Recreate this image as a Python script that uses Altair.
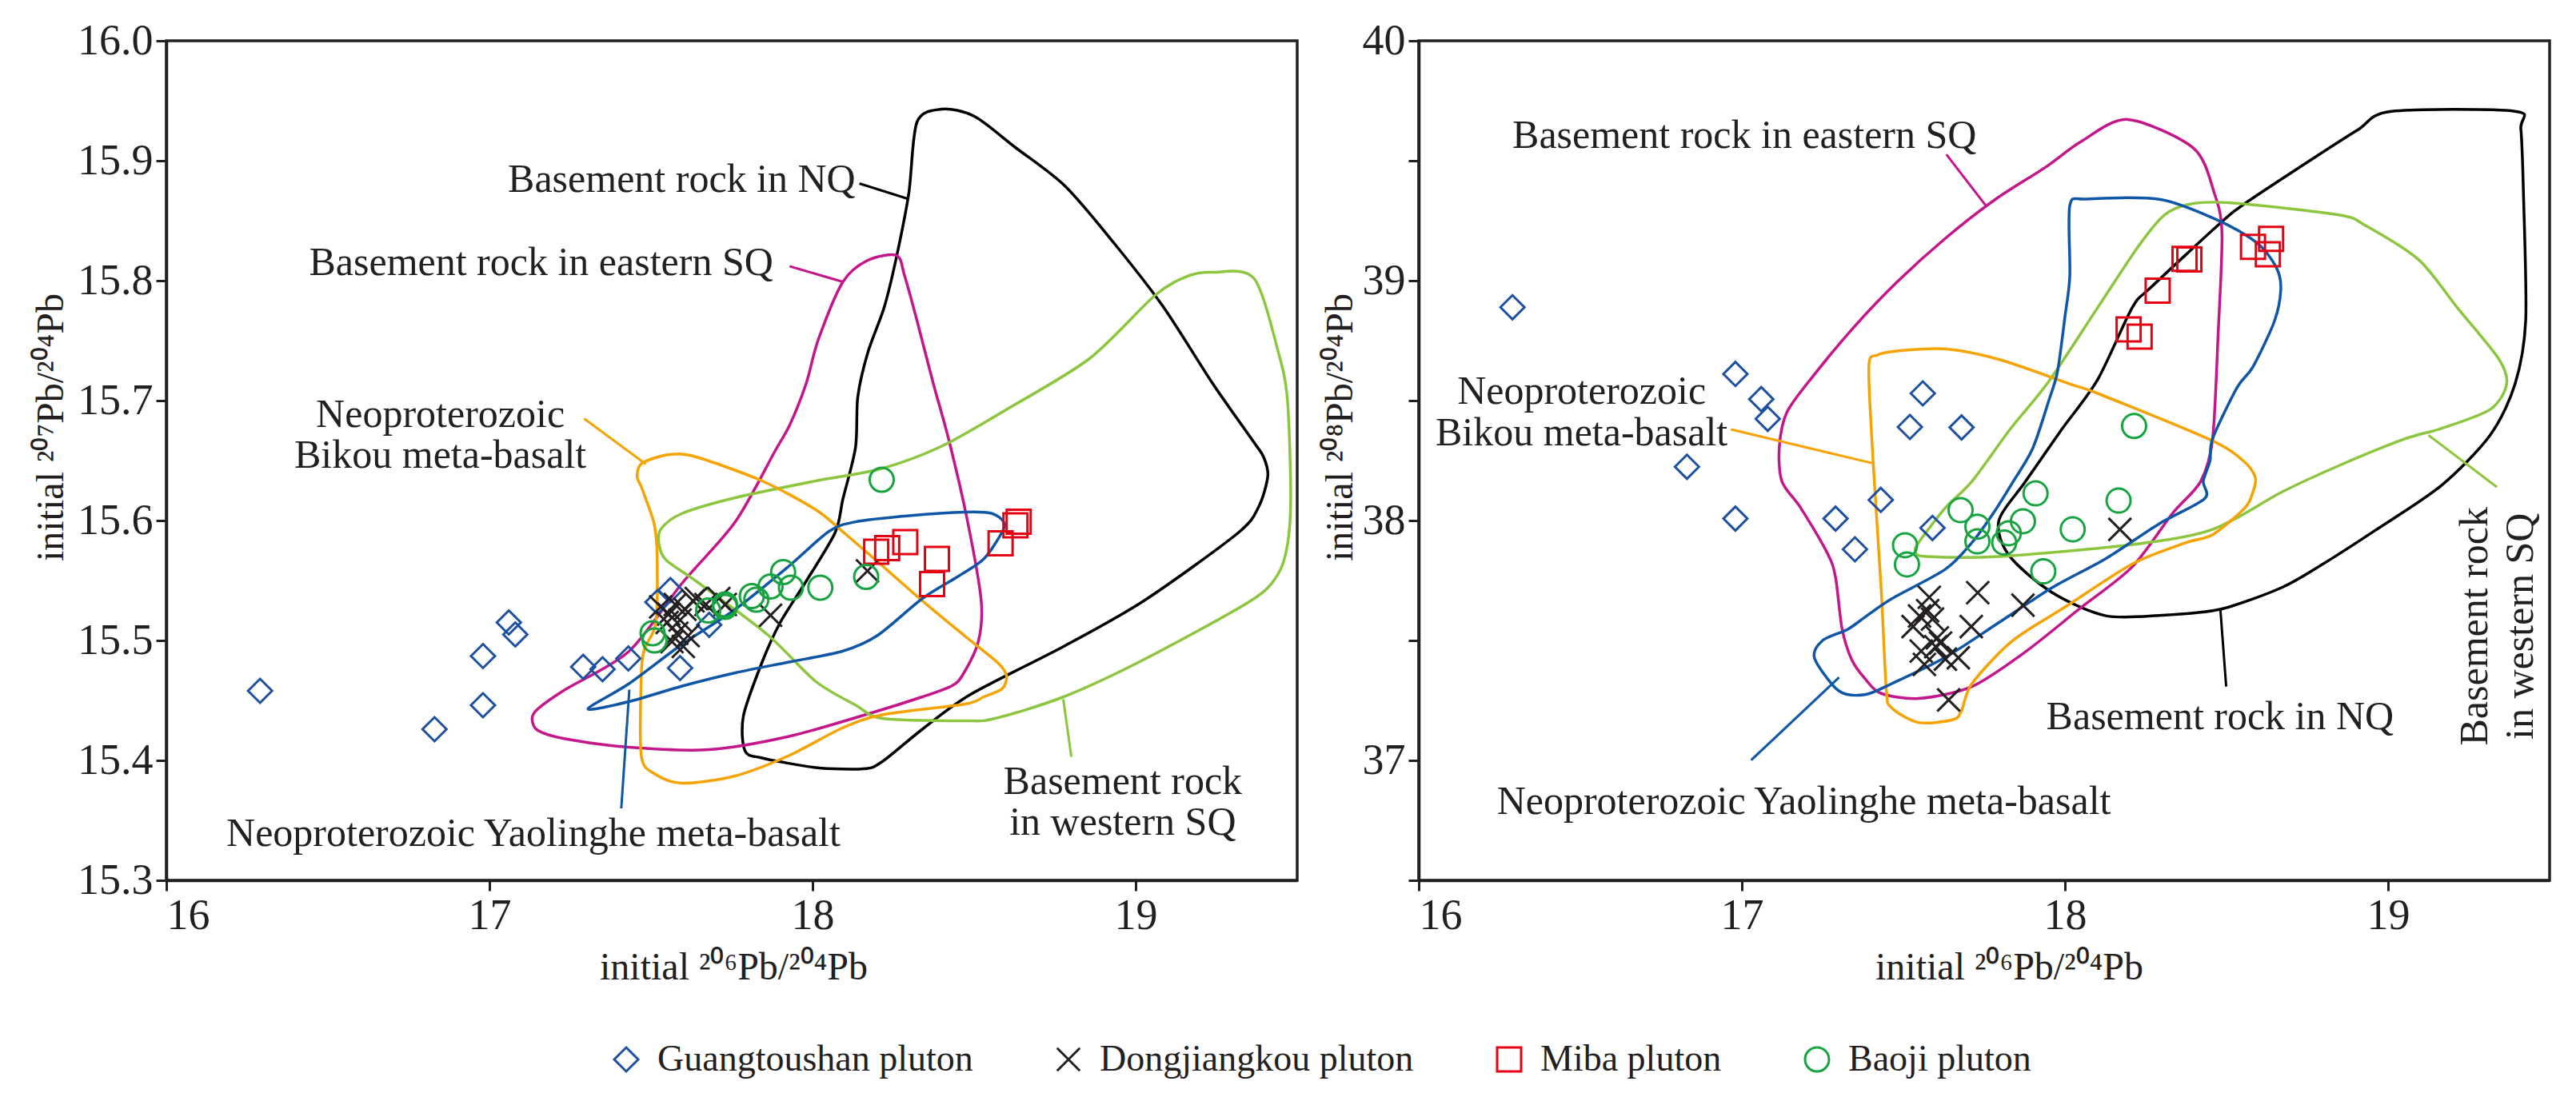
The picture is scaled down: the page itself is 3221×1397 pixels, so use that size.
import altair as alt
import pandas as pd

FONT = "Liberation Serif"
INK = "#231f20"

# ---------------- samples (initial 206Pb/204Pb, 207Pb/204Pb, 208Pb/204Pb) ----------------
GROUPS = ["Guangtoushan pluton", "Dongjiangkou pluton", "Miba pluton", "Baoji pluton"]
GROUP_COLORS = ["#1d50a2", "#231f20", "#e60012", "#17a440"]
GROUP_SHAPES = ["diamond", "M-0.95,-0.95L0.95,0.95M0.95,-0.95L-0.95,0.95", "square", "circle"]

GT_206 = [16.29, 16.83, 16.98, 16.98, 17.06, 17.08, 17.29, 17.35, 17.43, 17.52, 17.56, 17.59, 17.68]
GT_207 = [15.458, 15.426, 15.446, 15.487, 15.515, 15.505, 15.478, 15.476, 15.485, 15.532, 15.542, 15.477, 15.513]
GT_208 = [38.889, 38.224, 38.008, 38.611, 38.506, 38.424, 38.008, 37.880, 38.086, 38.390, 38.530, 37.969, 38.388]

DJ_206 = [17.53, 17.55, 17.555, 17.565, 17.575, 17.58, 17.59, 17.60, 17.605, 17.615, 17.63, 17.64, 17.67, 17.71, 17.73, 17.87, 18.17]
DJ_207 = [15.528, 15.515, 15.522, 15.499, 15.530, 15.506, 15.517, 15.495, 15.526, 15.504, 15.533, 15.535, 15.530, 15.535, 15.530, 15.521, 15.558]
DJ_208 = [37.558, 37.602, 37.456, 37.400, 37.624, 37.680, 37.589, 37.474, 37.511, 37.489, 37.422, 37.252, 37.428, 37.558, 37.699, 37.647, 37.963]

MB_206 = [18.197, 18.231, 18.287, 18.37, 18.385, 18.582, 18.628, 18.638]
MB_207 = [15.574, 15.577, 15.582, 15.547, 15.568, 15.581, 15.596, 15.599]
MB_208 = [38.797, 38.767, 38.958, 39.091, 39.088, 39.141, 39.110, 39.174]

BJ_206 = [17.505, 17.511, 17.677, 17.729, 17.729, 17.812, 17.826, 17.870, 17.909, 17.933, 18.024, 18.166, 18.214]
BJ_207 = [15.506, 15.500, 15.525, 15.528, 15.530, 15.537, 15.534, 15.545, 15.557, 15.544, 15.544, 15.553, 15.634]
BJ_208 = [37.897, 37.817, 38.043, 37.974, 37.913, 37.908, 37.947, 37.997, 38.113, 37.788, 37.963, 38.083, 38.394]

# ---------------- reference fields (outlines) ----------------
FIELD_COLORS = ["#000000", "#c4168a", "#8cc63f", "#f5a300", "#0f56a6"]  # NQ, eastern SQ, western SQ, Bikou, Yaolinghe

# 207Pb/204Pb vs 206Pb/204Pb
NQ_L_X = [18.400, 18.323, 18.298, 18.260, 18.222, 18.171, 18.140, 18.133, 18.094, 18.070, 17.977, 17.900, 17.844, 17.786, 17.791, 17.844, 18.010, 18.158, 18.216, 18.340, 18.489, 18.777, 19.025, 19.314, 19.380, 19.409, 19.396, 19.364, 19.239, 19.086, 18.934, 18.781, 18.628, 18.501]
NQ_L_Y = [15.943, 15.932, 15.873, 15.820, 15.778, 15.740, 15.703, 15.661, 15.618, 15.590, 15.548, 15.515, 15.482, 15.437, 15.408, 15.402, 15.394, 15.393, 15.399, 15.426, 15.455, 15.495, 15.533, 15.589, 15.611, 15.637, 15.653, 15.666, 15.714, 15.778, 15.831, 15.879, 15.911, 15.937]
ES_L_X = [18.260, 18.171, 18.094, 18.018, 17.980, 17.930, 17.886, 17.761, 17.597, 17.432, 17.234, 17.150, 17.132, 17.150, 17.234, 17.430, 17.679, 17.927, 18.175, 18.340, 18.430, 18.464, 18.513, 18.522, 18.480, 18.423, 18.374, 18.323, 18.285]
ES_L_Y = [15.821, 15.817, 15.799, 15.751, 15.714, 15.680, 15.659, 15.599, 15.548, 15.491, 15.459, 15.443, 15.435, 15.425, 15.418, 15.411, 15.409, 15.420, 15.439, 15.453, 15.462, 15.471, 15.499, 15.533, 15.599, 15.666, 15.714, 15.767, 15.804]
WS_L_X = [17.531, 17.597, 17.761, 18.010, 18.210, 18.400, 18.603, 18.857, 19.061, 19.163, 19.239, 19.366, 19.442, 19.470, 19.480, 19.470, 19.440, 19.356, 19.025, 18.777, 18.565, 18.472, 18.216, 18.134, 18.009, 17.860, 17.647, 17.547, 17.525]
WS_L_Y = [15.593, 15.606, 15.619, 15.633, 15.643, 15.662, 15.693, 15.735, 15.788, 15.804, 15.807, 15.802, 15.740, 15.700, 15.620, 15.580, 15.555, 15.533, 15.484, 15.453, 15.435, 15.433, 15.435, 15.446, 15.466, 15.505, 15.548, 15.567, 15.580]
BK_L_X = [17.556, 17.473, 17.457, 17.473, 17.510, 17.519, 17.515, 17.480, 17.470, 17.470, 17.510, 17.597, 17.760, 17.927, 18.092, 18.216, 18.472, 18.530, 18.588, 18.600, 18.571, 18.470, 18.340, 18.200, 18.092, 18.010, 17.844, 17.640]
BK_L_Y = [15.655, 15.648, 15.637, 15.626, 15.597, 15.570, 15.515, 15.493, 15.471, 15.404, 15.389, 15.381, 15.387, 15.404, 15.427, 15.438, 15.447, 15.453, 15.460, 15.471, 15.482, 15.504, 15.533, 15.566, 15.591, 15.609, 15.633, 15.653]
YL_L_X = [17.305, 17.432, 17.597, 17.761, 17.927, 18.051, 18.134, 18.299, 18.472, 18.554, 18.591, 18.588, 18.530, 18.448, 18.340, 18.200, 18.092, 17.927, 17.761, 17.597, 17.432]
YL_L_Y = [15.443, 15.464, 15.497, 15.526, 15.562, 15.591, 15.599, 15.604, 15.607, 15.606, 15.599, 15.591, 15.568, 15.553, 15.535, 15.504, 15.491, 15.482, 15.473, 15.462, 15.449]

# 208Pb/204Pb vs 206Pb/204Pb
NQ_R_X = [19.010, 19.393, 19.411, 19.419, 19.426, 19.393, 19.316, 19.163, 18.959, 18.800, 18.670, 18.480, 18.300, 18.126, 17.960, 17.828, 17.795, 17.878, 17.990, 18.101, 18.208, 18.267, 18.481, 18.566, 18.780, 18.908]
NQ_R_Y = [39.706, 39.706, 39.632, 39.366, 38.835, 38.569, 38.356, 38.144, 37.958, 37.820, 37.720, 37.630, 37.605, 37.603, 37.700, 37.853, 37.997, 38.163, 38.380, 38.587, 38.887, 38.973, 39.240, 39.330, 39.520, 39.630]
ES_R_X = [18.194, 18.398, 18.462, 18.486, 18.474, 18.457, 18.420, 18.333, 18.209, 18.043, 17.878, 17.712, 17.547, 17.430, 17.381, 17.340, 17.310, 17.290, 17.265, 17.182, 17.124, 17.116, 17.140, 17.224, 17.348, 17.480, 17.633, 17.786, 17.939, 18.050]
ES_R_Y = [39.672, 39.552, 39.366, 39.197, 38.774, 38.341, 38.163, 38.030, 37.808, 37.630, 37.453, 37.308, 37.258, 37.280, 37.341, 37.420, 37.550, 37.763, 37.863, 38.053, 38.163, 38.308, 38.453, 38.608, 38.808, 38.994, 39.180, 39.340, 39.472, 39.580]
WS_R_X = [17.538, 17.571, 17.795, 18.210, 18.457, 18.673, 18.850, 19.053, 19.163, 19.316, 19.367, 19.342, 19.214, 19.095, 18.930, 18.847, 18.516, 18.390, 18.308, 18.226, 18.101, 17.950, 17.830, 17.712, 17.630, 17.547]
WS_R_Y = [37.870, 37.850, 37.850, 37.900, 37.963, 38.120, 38.230, 38.341, 38.383, 38.463, 38.569, 38.675, 38.888, 39.087, 39.230, 39.274, 39.324, 39.320, 39.274, 39.141, 38.887, 38.580, 38.380, 38.163, 38.053, 37.908]
BK_R_X = [17.393, 17.420, 17.480, 17.633, 17.800, 18.016, 18.101, 18.449, 18.551, 18.589, 18.582, 18.557, 18.457, 18.375, 18.210, 18.002, 17.836, 17.712, 17.680, 17.654, 17.547, 17.463, 17.447, 17.431, 17.406]
BK_R_Y = [38.641, 38.690, 38.707, 38.715, 38.670, 38.569, 38.530, 38.337, 38.250, 38.180, 38.120, 38.053, 37.941, 37.908, 37.820, 37.641, 37.497, 37.320, 37.208, 37.170, 37.158, 37.220, 37.297, 37.720, 38.252]
YL_R_X = [17.225, 17.250, 17.327, 17.381, 17.464, 17.630, 17.712, 17.778, 17.840, 17.900, 17.950, 17.977, 18.000, 18.015, 18.015, 18.066, 18.296, 18.481, 18.598, 18.655, 18.668, 18.648, 18.582, 18.532, 18.457, 18.449, 18.428, 18.432, 18.292, 18.126, 17.960, 17.795, 17.630, 17.464, 17.381, 17.300]
YL_R_Y = [37.426, 37.500, 37.546, 37.597, 37.674, 37.797, 37.908, 38.030, 38.163, 38.300, 38.500, 38.622, 38.850, 39.020, 39.313, 39.340, 39.338, 39.247, 39.153, 39.053, 38.963, 38.830, 38.641, 38.553, 38.341, 38.250, 38.163, 38.091, 37.987, 37.841, 37.720, 37.574, 37.430, 37.320, 37.274, 37.290]

# leader lines (NQ, eastern SQ, western SQ, Bikou, Yaolinghe)
LEAD_L_X1 = [18.145, 17.929, 18.776, 17.293, 17.433]
LEAD_L_Y1 = [15.881, 15.812, 15.451, 15.685, 15.459]
LEAD_L_X2 = [18.298, 18.094, 18.801, 17.484, 17.408]
LEAD_L_Y2 = [15.868, 15.799, 15.403, 15.647, 15.360]
LEAD_R_X1 = [18.481, 17.633, 19.125, 16.966, 17.029]
LEAD_R_Y1 = [37.630, 39.526, 38.356, 38.380, 37.001]
LEAD_R_X2 = [18.499, 17.755, 19.337, 17.410, 17.301]
LEAD_R_Y2 = [37.308, 39.313, 38.139, 38.237, 37.346]

# field labels
ANN_L_TEXT = ["Basement rock in NQ", "Basement rock in eastern SQ", "Neoproterozoic", "Bikou meta-basalt",
              "Neoproterozoic Yaolinghe meta-basalt", "Basement rock", "in western SQ"]
ANN_L_X = [17.595, 17.160, 16.848, 16.848, 17.136, 18.960, 18.960]
ANN_L_Y = [15.884, 15.815, 15.688, 15.654, 15.339, 15.382, 15.348]
ANN_R_TEXT = ["Basement rock in eastern SQ", "Neoproterozoic", "Bikou meta-basalt",
              "Neoproterozoic Yaolinghe meta-basalt", "Basement rock in NQ"]
ANN_R_X = [17.008, 16.504, 16.504, 17.192, 18.480]
ANN_R_Y = [39.605, 38.537, 38.364, 36.828, 37.179]
ANN_R_VTEXT = ["Basement rock", "in western SQ"]
ANN_R_VX = [19.270, 19.411]
ANN_R_VY = [37.559, 37.559]

X_TICKS = [16, 17, 18, 19]
Y207_TICKS = [15.3, 15.4, 15.5, 15.6, 15.7, 15.8, 15.9, 16.0]
Y208_TICKS = [36.5, 37, 37.5, 38, 38.5, 39, 39.5, 40]


def panel(ydomain, yaxis_kw, ycols, polys, leads, ann, vann, xtitle_x, ytitle_x):
    xenc = alt.X("x:Q", scale=alt.Scale(domain=[16, 19.5], nice=False, zero=False),
                 axis=alt.Axis(values=X_TICKS, format="d", title="initial ²⁰⁶Pb/²⁰⁴Pb",
                               titleX=xtitle_x, titleY=123, titleBaseline="alphabetic"))
    yenc = alt.Y("y:Q", scale=alt.Scale(domain=ydomain, nice=False, zero=False),
                 axis=alt.Axis(titleX=ytitle_x, titleY=483, titleBaseline="alphabetic", **yaxis_kw))
    layers = []
    for (px, py), col in zip(polys, FIELD_COLORS):
        df = pd.DataFrame({"x": px, "y": py, "i": list(range(len(px)))})
        layers.append(alt.Chart(df).mark_line(interpolate="cardinal-closed", tension=0.15, color=col,
                                              strokeWidth=3.5, clip=True)
                      .encode(x=xenc, y=yenc, order="i:Q"))
    x1, y1, x2, y2 = leads
    for k, col in enumerate(FIELD_COLORS):
        df = pd.DataFrame({"x": [x1[k]], "y": [y1[k]], "x2": [x2[k]], "y2": [y2[k]]})
        layers.append(alt.Chart(df).mark_rule(color=col, strokeWidth=3)
                      .encode(x=xenc, y=yenc, x2="x2:Q", y2="y2:Q"))
    t, tx, ty = ann
    layers.append(alt.Chart(pd.DataFrame({"x": tx, "y": ty, "label": t}))
                  .mark_text(font=FONT, fontSize=50, color=INK, align="center", baseline="middle")
                  .encode(x=xenc, y=yenc, text="label:N"))
    if vann:
        t, tx, ty = vann
        layers.append(alt.Chart(pd.DataFrame({"x": tx, "y": ty, "label": t}))
                      .mark_text(font=FONT, fontSize=50, color=INK, align="center", baseline="middle", angle=270)
                      .encode(x=xenc, y=yenc, text="label:N"))
    rows = []
    for g, xs, ys in zip(GROUPS, [GT_206, DJ_206, MB_206, BJ_206], ycols):
        for a, b in zip(xs, ys):
            rows.append({"x": a, "y": b, "group": g})
    legend = alt.Legend(orient="none", legendX=552, legendY=1251, direction="horizontal", columns=4,
                        labelFont=FONT, labelFontSize=46, labelColor=INK, labelLimit=2000, symbolSize=900,
                        symbolStrokeWidth=3, columnPadding=96, labelOffset=16)
    layers.append(alt.Chart(pd.DataFrame(rows)).mark_point(filled=False, size=900, strokeWidth=3, opacity=1)
                  .encode(x=xenc, y=yenc,
                          color=alt.Color("group:N", title=None, legend=legend,
                                          scale=alt.Scale(domain=GROUPS, range=GROUP_COLORS)),
                          shape=alt.Shape("group:N", title=None, legend=legend,
                                          scale=alt.Scale(domain=GROUPS, range=GROUP_SHAPES))))
    return alt.layer(*layers).properties(width=1414, height=1050)


left = panel([15.3, 16.0],
             dict(values=Y207_TICKS, format=".1f", title="initial ²⁰⁷Pb/²⁰⁴Pb"),
             [GT_207, DJ_207, MB_207, BJ_207],
             [(NQ_L_X, NQ_L_Y), (ES_L_X, ES_L_Y), (WS_L_X, WS_L_Y), (BK_L_X, BK_L_Y), (YL_L_X, YL_L_Y)],
             (LEAD_L_X1, LEAD_L_Y1, LEAD_L_X2, LEAD_L_Y2),
             (ANN_L_TEXT, ANN_L_X, ANN_L_Y), None, 709, -130)

right = panel([36.5, 40.0],
              dict(values=Y208_TICKS, labelExpr="datum.value % 1 === 0 ? format(datum.value, 'd') : ''",
                   title="initial ²⁰⁸Pb/²⁰⁴Pb"),
              [GT_208, DJ_208, MB_208, BJ_208],
              [(NQ_R_X, NQ_R_Y), (ES_R_X, ES_R_Y), (WS_R_X, WS_R_Y), (BK_R_X, BK_R_Y), (YL_R_X, YL_R_Y)],
              (LEAD_R_X1, LEAD_R_Y1, LEAD_R_X2, LEAD_R_Y2),
              (ANN_R_TEXT, ANN_R_X, ANN_R_Y), (ANN_R_VTEXT, ANN_R_VX, ANN_R_VY), 738, -84)

chart = (alt.hconcat(left, right, spacing=26)
         .resolve_scale(x="independent", y="independent")
         .properties(padding={"left": 30, "top": 14, "right": 5, "bottom": 5}, background="white")
         .configure_view(stroke=INK, strokeWidth=3.5)
         .configure_axis(domainColor=INK, domainWidth=3.5, tickColor=INK, tickWidth=3, tickSize=13,
                         labelFont=FONT, labelFontSize=54, labelColor=INK, labelPadding=4,
                         titleFont=FONT, titleFontSize=48, titleFontWeight="normal", titleColor=INK,
                         grid=False))

chart.save("out.html", embed_options={"renderer": "svg", "actions": False})
